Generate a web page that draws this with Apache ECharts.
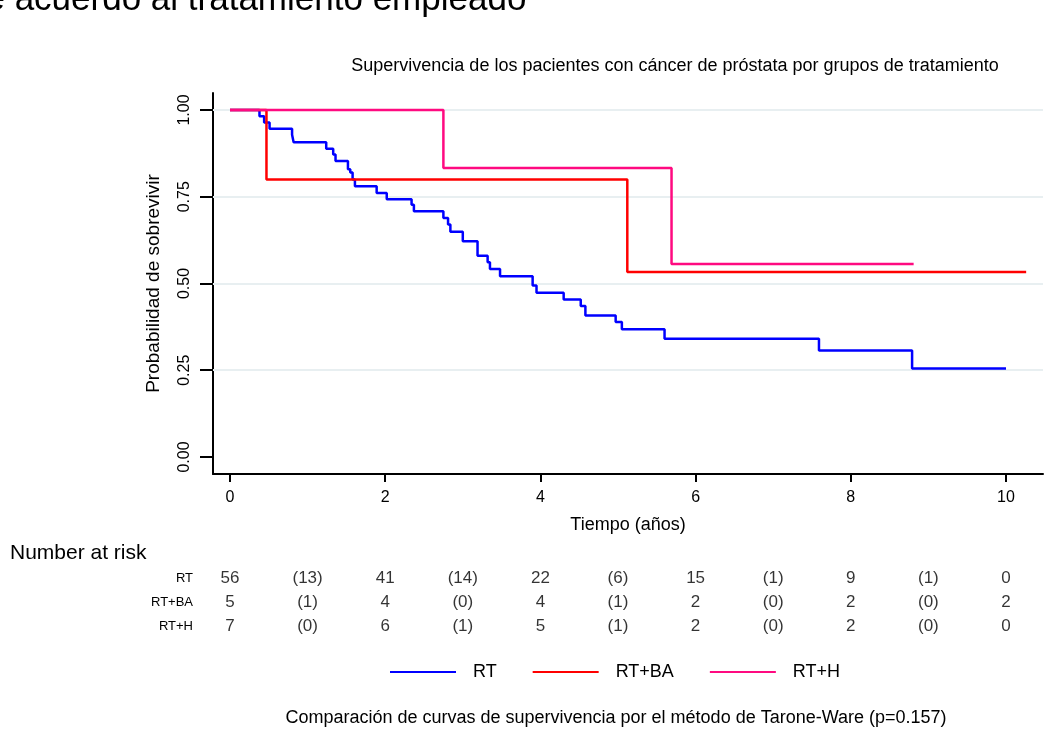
<!DOCTYPE html>
<html>
<head>
<meta charset="utf-8">
<script src="https://cdn.jsdelivr.net/npm/echarts@6/dist/echarts.min.js"></script>
<style>
html, body { margin: 0; padding: 0; background: #fff; }
#chart { width: 1057px; height: 738px; }
</style>
</head>
<body>
<div id="chart"></div>
<script>
var groups = ['RT', 'RT+BA', 'RT+H'];
var colors = ['#0000ff', '#ff0000', '#ff0a80'];

// curvas de Kaplan-Meier: [tiempo (años), supervivencia]
var survRT = [[0, 1], [0.38, 0.982], [0.44, 0.964], [0.51, 0.946], [0.80, 0.929], [0.82, 0.907],
  [1.24, 0.888], [1.33, 0.872], [1.36, 0.853], [1.52, 0.829], [1.55, 0.820], [1.58, 0.800],
  [1.61, 0.780], [1.89, 0.761], [2.02, 0.743], [2.34, 0.727], [2.37, 0.708], [2.75, 0.689],
  [2.81, 0.670], [2.84, 0.649], [3.00, 0.622], [3.19, 0.580], [3.32, 0.561], [3.35, 0.542],
  [3.48, 0.521], [3.90, 0.494], [3.95, 0.473], [4.30, 0.454], [4.52, 0.435], [4.58, 0.408],
  [4.97, 0.389], [5.05, 0.368], [5.60, 0.341], [7.59, 0.307], [8.79, 0.255], [10.0, 0.255]];
var survRTBA = [[0, 1], [0.47, 0.800], [5.12, 0.533], [10.26, 0.533]];
var survRTH = [[0, 1], [2.75, 0.833], [5.69, 0.556], [8.81, 0.556]];

// tabla de pacientes en riesgo
var riskTimes = [0, 2, 4, 6, 8, 10];
var riskRT = [56, 41, 22, 15, 9, 0];
var riskRTBA = [5, 4, 4, 2, 2, 2];
var riskRTH = [7, 6, 5, 2, 2, 0];
var lostTimes = [1, 3, 5, 7, 9];
var lostRT = [13, 14, 6, 1, 1];
var lostRTBA = [1, 0, 1, 0, 0];
var lostRTH = [0, 1, 1, 0, 0];

var xTicks = [0, 2, 4, 6, 8, 10];
var yTicks = [0, 0.25, 0.5, 0.75, 1];
var gridLines = [0.25, 0.5, 0.75, 1];

var font = 'Liberation Sans, Arial, sans-serif';
var chart = echarts.init(document.getElementById('chart'));

var riskData = [];
[[riskRT, lostRT], [riskRTBA, lostRTBA], [riskRTH, lostRTH]].forEach(function (r, g) {
  riskTimes.forEach(function (t, i) { riskData.push([t, groups[g], String(r[0][i])]); });
  lostTimes.forEach(function (t, i) { riskData.push([t, groups[g], '(' + r[1][i] + ')']); });
});

var xMin = -0.219, xMax = 10.477;

var option = {
  animation: false,
  textStyle: { fontFamily: font, color: '#000' },
  graphic: [
    { type: 'text', x: -34, y: 0.5, style: { text: 'de acuerdo al tratamiento empleado', font: '35px ' + font, fill: '#000', verticalAlign: 'middle' } },
    { type: 'text', x: 675, y: 66, style: { text: 'Supervivencia de los pacientes con cáncer de próstata por grupos de tratamiento', font: '18px ' + font, fill: '#000', align: 'center', verticalAlign: 'middle' } },
    { type: 'text', x: 10, y: 553, style: { text: 'Number at risk', font: '21px ' + font, fill: '#000', verticalAlign: 'middle' } },
    { type: 'text', x: 616, y: 718, style: { text: 'Comparación de curvas de supervivencia por el método de Tarone-Ware (p=0.157)', font: '18px ' + font, fill: '#000', align: 'center', verticalAlign: 'middle' } }
  ],
  legend: {
    data: groups,
    left: 385, top: 658,
    icon: 'rect', itemWidth: 66, itemHeight: 2, itemGap: 36,
    textStyle: { fontSize: 18, color: '#000', padding: [0, 0, 0, 12] }
  },
  grid: [
    { left: 213, right: 14, top: 93, bottom: 264 },
    { left: 213, right: 14, top: 566, height: 72 }
  ],
  xAxis: [{
    type: 'value', min: xMin, max: xMax,
    name: 'Tiempo (años)', nameLocation: 'middle', nameGap: 42,
    nameTextStyle: { fontSize: 18, color: '#000' },
    axisLine: { onZero: false, lineStyle: { color: '#000', width: 2 } },
    axisTick: { customValues: xTicks, length: 8, lineStyle: { color: '#000', width: 2 } },
    axisLabel: { customValues: xTicks, fontSize: 16, color: '#000', margin: 16 },
    splitLine: { show: false }
  }, {
    type: 'value', gridIndex: 1, min: xMin, max: xMax, show: false
  }],
  yAxis: [{
    type: 'value', min: -0.049, max: 1.049,
    name: 'Probabilidad de sobrevivir', nameLocation: 'middle', nameGap: 50,
    nameTextStyle: { fontSize: 19, color: '#000' },
    axisLine: { show: true, onZero: false, lineStyle: { color: '#000', width: 2 } },
    axisTick: { show: true, customValues: yTicks, length: 13, lineStyle: { color: '#000', width: 2 } },
    axisLabel: { customValues: yTicks, rotate: 90, fontSize: 16, color: '#000', margin: 20,
      formatter: function (v) { return v.toFixed(2); } },
    splitLine: { show: false }
  }, {
    type: 'category', gridIndex: 1, data: groups, inverse: true,
    axisLine: { show: false }, axisTick: { show: false },
    axisLabel: { fontSize: 13, color: '#000', margin: 20 }
  }],
  series: [
    {
      type: 'line', data: [], silent: true, z: 1,
      markLine: {
        silent: true, symbol: 'none', z: 1, label: { show: false },
        lineStyle: { color: '#e8eff1', width: 2, type: 'solid' },
        data: gridLines.map(function (v) { return { yAxis: v }; })
      }
    },
    { name: groups[0], type: 'line', step: 'end', data: survRT, showSymbol: false, z: 3,
      lineStyle: { color: colors[0], width: 2.5 }, itemStyle: { color: colors[0] } },
    { name: groups[1], type: 'line', step: 'end', data: survRTBA, showSymbol: false, z: 4,
      lineStyle: { color: colors[1], width: 2.5 }, itemStyle: { color: colors[1] } },
    { name: groups[2], type: 'line', step: 'end', data: survRTH, showSymbol: false, z: 5,
      lineStyle: { color: colors[2], width: 2.5 }, itemStyle: { color: colors[2] } },
    {
      type: 'scatter', xAxisIndex: 1, yAxisIndex: 1, data: riskData,
      symbolSize: 1, itemStyle: { color: 'rgba(0,0,0,0)' }, silent: true,
      label: { show: true, position: 'inside', fontSize: 17, color: '#000',
        formatter: function (p) { return p.value[2]; } }
    }
  ]
};
chart.setOption(option);
</script>
</body>
</html>
